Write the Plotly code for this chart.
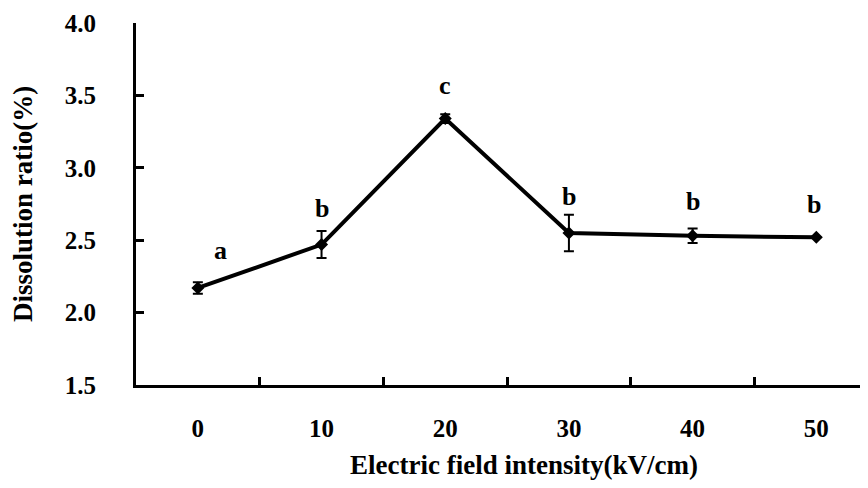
import plotly.graph_objects as go

categories = ["0", "10", "20", "30", "40", "50"]
dissolution = [2.17, 2.47, 3.34, 2.55, 2.53, 2.52]
errors = [0.04, 0.093, 0.03, 0.126, 0.05, 0.0]
letters = ["a", "b", "c", "b", "b", "b"]
letter_x = [0.18, 1, 2, 3, 4, 4.98]
letter_y = [2.43, 2.72, 3.57, 2.80, 2.77, 2.75]

FONT = "Times New Roman, Liberation Serif, serif"

fig = go.Figure()
fig.add_trace(go.Scatter(
    x=categories, y=dissolution,
    mode="lines+markers",
    line=dict(color="black", width=4),
    marker=dict(symbol="diamond", size=10, color="black"),
    error_y=dict(type="data", array=errors, visible=True,
                 color="black", thickness=2, width=5),
    showlegend=False,
))

for lx, ly, t in zip(letter_x, letter_y, letters):
    fig.add_annotation(x=lx, y=ly, text=t, showarrow=False,
                       font=dict(family=FONT, size=26, color="black", weight="bold"),
                       xanchor="center", yanchor="middle")

fig.add_annotation(x=0.53, y=-0.22, xref="paper", yref="paper",
                   text="Electric field intensity(kV/cm)", showarrow=False,
                   font=dict(family=FONT, size=27, color="black", weight="bold"),
                   xanchor="center", yanchor="middle")

fig.update_layout(
    width=860, height=480,
    margin=dict(l=128, r=0, t=15, b=103),
    paper_bgcolor="white", plot_bgcolor="white",
    font=dict(family=FONT, color="black", weight="bold"),
    xaxis=dict(
        type="category", range=[-0.5, 5.418],
        showline=True, linecolor="black", linewidth=3,
        ticks="inside", tickson="boundaries", ticklen=8, tickwidth=3, tickcolor="black",
        showgrid=False, zeroline=False,
        tickfont=dict(family=FONT, size=25, color="black", weight="bold"),
        ticklabelstandoff=19,
    ),
    yaxis=dict(
        range=[1.5, 4.0], dtick=0.5, tickformat=".1f",
        showline=True, linecolor="black", linewidth=3,
        ticks="inside", ticklen=8, tickwidth=3, tickcolor="black",
        showgrid=False, zeroline=False,
        tickfont=dict(family=FONT, size=25, color="black", weight="bold"),
        ticklabelstandoff=32,
        title=dict(text="Dissolution ratio(%)", standoff=28,
                   font=dict(family=FONT, size=27, color="black", weight="bold")),
    ),
)

fig.write_html("out.html")
